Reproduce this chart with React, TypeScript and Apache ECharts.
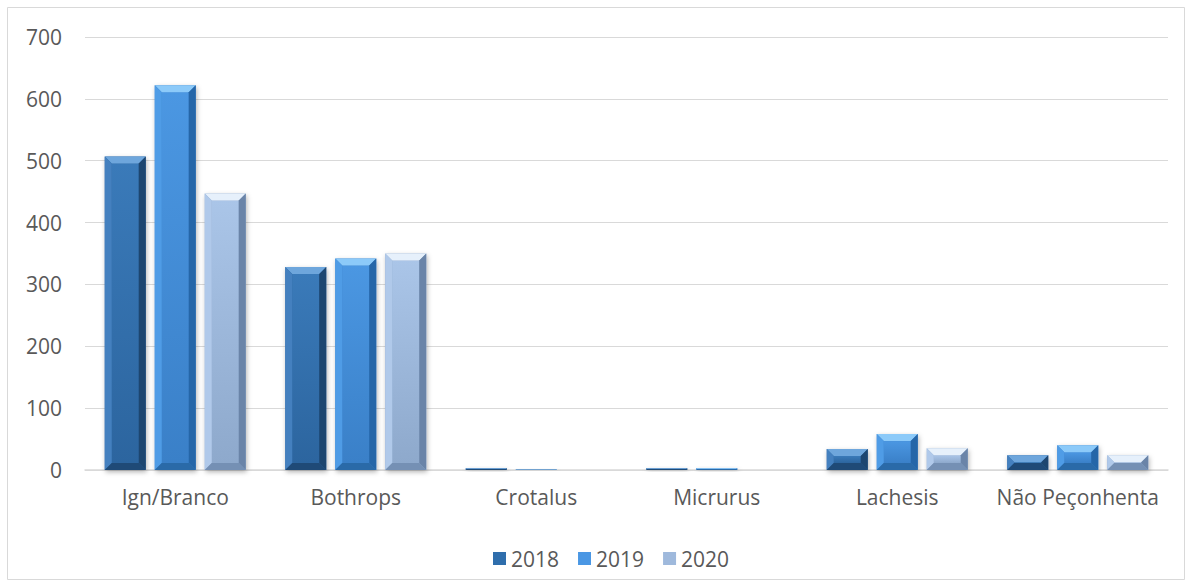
import React, { useEffect, useRef } from "react";
import * as echarts from "echarts";

const categories = ["Ign/Branco", "Bothrops", "Crotalus", "Micrurus", "Lachesis", "Não Peçonhenta"];
const seriesNames = ["2018", "2019", "2020"];
const values2018 = [507, 328, 3, 3, 34, 24];
const values2019 = [622, 342, 1, 3, 58, 40];
const values2020 = [447, 350, 0, 0, 35, 24];
const yTicks = [0, 100, 200, 300, 400, 500, 600, 700];

const palettes = [
  { top: "#6ea6dc", left: "#4480bf", bodyTop: "#3a7ab9", bodyBot: "#2c659f", right: "#1d4670", bottom: "#1f4a77", legend: "#2f6eac" },
  { top: "#8ccaf9", left: "#4f9ce6", bodyTop: "#4b97e2", bodyBot: "#3a80c8", right: "#2566a8", bottom: "#2a6aa8", legend: "#4a97e4" },
  { top: "#e6f0fb", left: "#b0c9ea", bodyTop: "#aac5e8", bodyBot: "#8ea9cc", right: "#6a84a8", bottom: "#7590b4", legend: "#9fb9dc" },
];

const FONT = "Open Sans, Liberation Sans, sans-serif";
const BAR_W = 41;
const OFFSETS = [-50, 0, 50];

function makeRenderItem(si: number) {
  const p = palettes[si];
  return (params: any, api: any) => {
    const v = api.value(1);
    if (!v) return null;
    const c = api.coord([api.value(0), v]);
    const b0 = api.coord([api.value(0), 0]);
    const cx = c[0] + OFFSETS[si];
    const x0 = cx - BAR_W / 2;
    const x1 = cx + BAR_W / 2;
    const top = c[1];
    const bot = b0[1];
    const h = bot - top;
    const bv = Math.min(7, h / 2);
    const children: any[] = [
      {
        type: "rect",
        shape: { x: x0, y: top, width: BAR_W, height: h },
        style: { fill: p.bodyBot, shadowBlur: 5, shadowColor: "rgba(0,0,0,0.3)", shadowOffsetX: 1, shadowOffsetY: 2 },
      },
      {
        type: "rect",
        shape: { x: x0 + bv, y: top + bv, width: BAR_W - 2 * bv, height: Math.max(0, h - 2 * bv) },
        style: {
          fill: new echarts.graphic.LinearGradient(0, 0, 0, 1, [
            { offset: 0, color: p.bodyTop },
            { offset: 1, color: p.bodyBot },
          ]),
        },
      },
      {
        type: "polygon",
        shape: { points: [[x0, top], [x1, top], [x1 - bv, top + bv], [x0 + bv, top + bv]] },
        style: { fill: p.top },
      },
      {
        type: "polygon",
        shape: { points: [[x0, top], [x0 + bv, top + bv], [x0 + bv, bot - bv], [x0, bot]] },
        style: { fill: p.left },
      },
      {
        type: "polygon",
        shape: { points: [[x1, top], [x1, bot], [x1 - bv, bot - bv], [x1 - bv, top + bv]] },
        style: { fill: p.right },
      },
      {
        type: "polygon",
        shape: { points: [[x0, bot], [x0 + bv, bot - bv], [x1 - bv, bot - bv], [x1, bot]] },
        style: { fill: p.bottom },
      },
    ];
    return { type: "group", children };
  };
}

export default function App() {
  const ref = useRef<HTMLDivElement>(null);
  useEffect(() => {
    document.body.style.margin = "0";
    const chart = echarts.init(ref.current!, null, { renderer: "svg" });
    const data = [values2018, values2019, values2020];
    chart.setOption({
      animation: false,
      backgroundColor: "#ffffff",
      textStyle: { fontFamily: FONT },
      graphic: [
        {
          type: "rect",
          shape: { x: 7.5, y: 7.5, width: 1177, height: 572 },
          style: { fill: "none", stroke: "#d9d9d9", lineWidth: 1 },
          silent: true,
        },
      ],
      grid: { left: 85, right: 24, top: 37, bottom: 117, containLabel: false },
      legend: {
        data: seriesNames,
        left: 488,
        top: 543,
        icon: "rect",
        itemWidth: 13,
        itemHeight: 13,
        itemGap: 19,
        textStyle: { color: "#595959", fontSize: 21, fontFamily: FONT },
      },
      xAxis: {
        type: "category",
        data: categories,
        axisLine: { show: true, lineStyle: { color: "#d9d9d9", width: 1.5 } },
        axisTick: { show: false },
        axisLabel: { color: "#595959", fontSize: 21, margin: 16, interval: 0, fontFamily: FONT },
      },
      yAxis: {
        type: "value",
        min: 0,
        max: 700,
        interval: 100,
        axisLine: { show: false },
        axisTick: { show: false },
        axisLabel: { color: "#595959", fontSize: 21, margin: 23, fontFamily: FONT, customValues: yTicks },
        splitLine: { lineStyle: { color: "#d9d9d9", width: 1 } },
      },
      series: seriesNames.map((name, i) => ({
        name,
        type: "custom",
        renderItem: makeRenderItem(i),
        encode: { x: 0, y: 1 },
        itemStyle: { color: palettes[i].legend },
        data: data[i].map((v, k) => [k, v]),
        z: 3,
      })),
    });
    return () => chart.dispose();
  }, []);
  return <div ref={ref} style={{ width: 1192, height: 587 }} />;
}
